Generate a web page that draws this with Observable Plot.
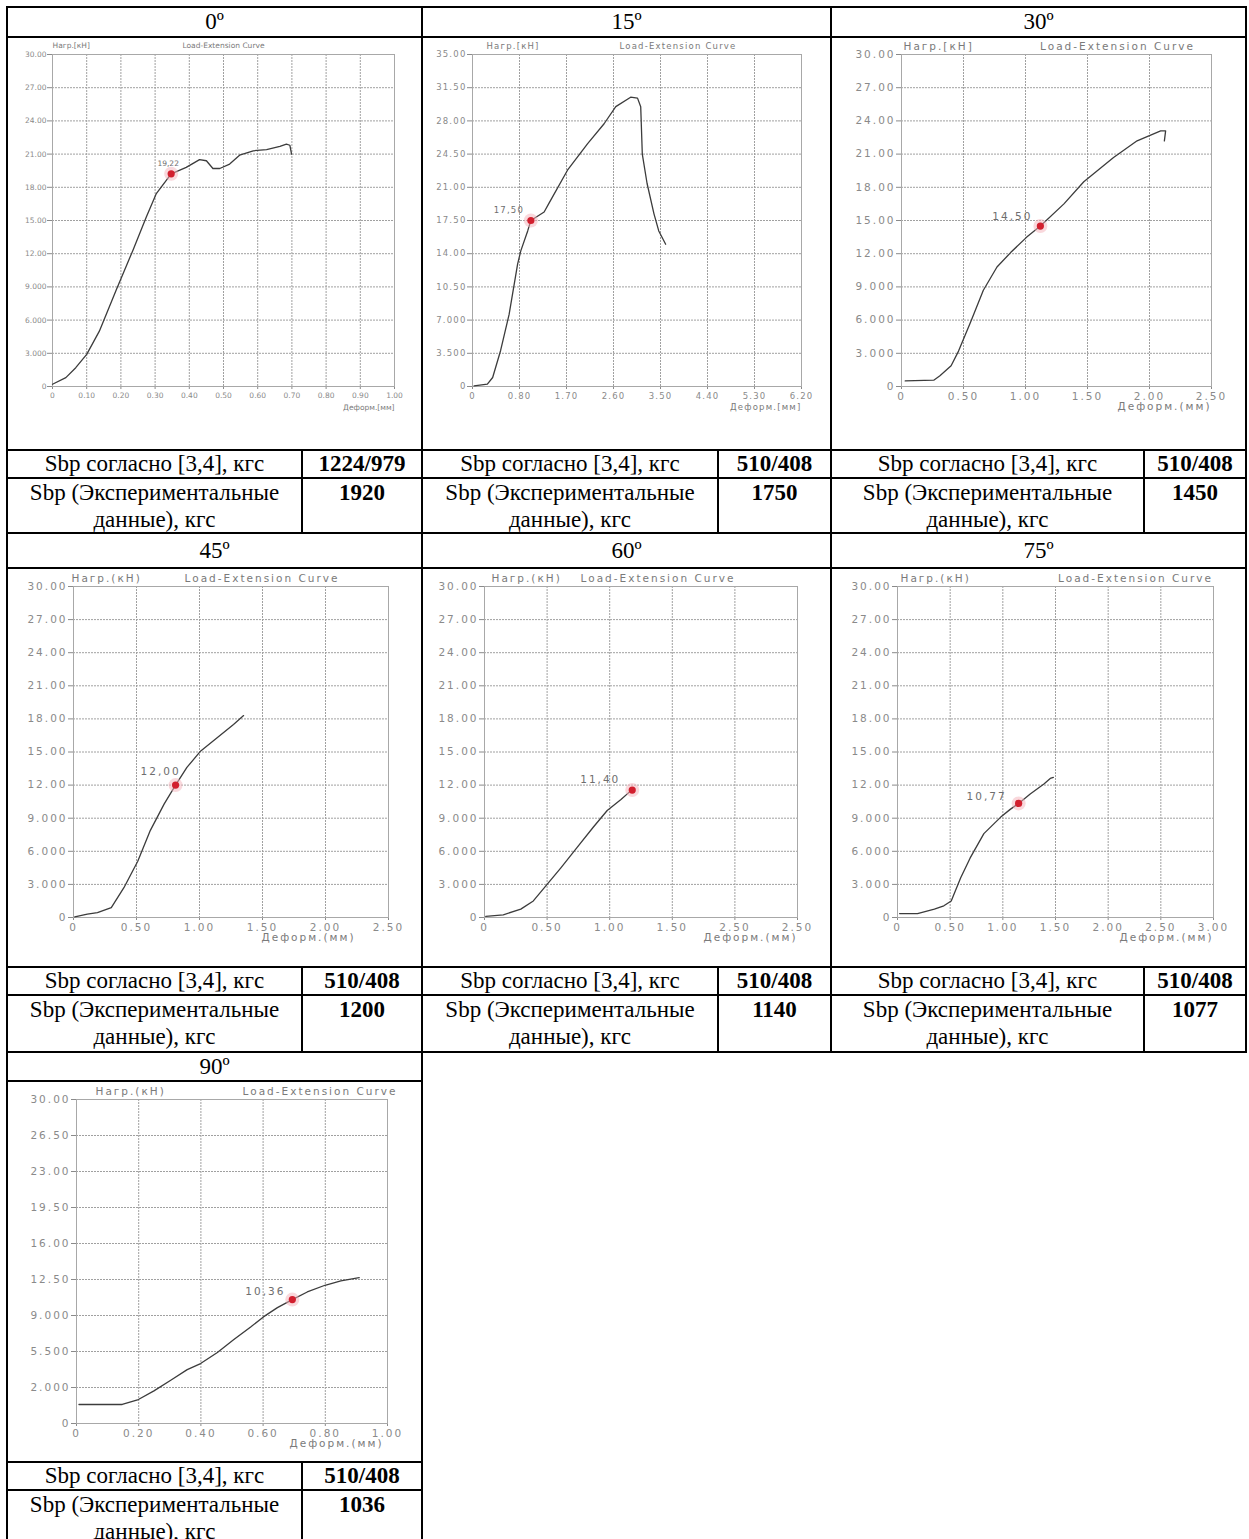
<!DOCTYPE html>
<html>
<head>
<meta charset="utf-8">
<script src="https://cdn.jsdelivr.net/npm/d3@7"></script>
<script src="https://cdn.jsdelivr.net/npm/@observablehq/plot@0.6"></script>
<style>
  html, body { margin: 0; padding: 0; background: #fff; }
  #page { position: relative; width: 1249px; height: 1539px; overflow: hidden; background: #fff;
          font-family: "Liberation Serif", "Times New Roman", serif; color: #000; }
  .ln { position: absolute; background: #000; }
  .tx { position: absolute; text-align: center; font-size: 23px; white-space: nowrap; }
  .tx.b { font-weight: bold; }
  .chart { position: absolute; }
  .chart svg text { font-family: "DejaVu Sans", sans-serif; }
  .fs-s svg text { font-size: 7.5px; letter-spacing: 0px; }
  .fs-m svg text { font-size: 8.5px; letter-spacing: 1.2px; }
  .fs-l svg text { font-size: 10.5px; letter-spacing: 2px; }
</style>
</head>
<body>
<div id="page"></div>
<script>
// ---------------- table texts ----------------
const angles = ["0º", "15º", "30º", "45º", "60º", "75º", "90º"];
const sbpNorm = ["1224/979", "510/408", "510/408", "510/408", "510/408", "510/408", "510/408"];
const sbpExp = ["1920", "1750", "1450", "1200", "1140", "1077", "1036"];
const rowNormLabel = "Sbp согласно [3,4], кгс";
const rowExpLabel = ["Sbp (Экспериментальные", "данные), кгс"];

// ---------------- chart texts ----------------
const curveTitle = "Load-Extension Curve";
const yTitles = ["Нагр.[кН]", "Нагр.[кН]", "Нагр.[кН]", "Нагр.(кН)", "Нагр.(кН)", "Нагр.(кН)", "Нагр.(кН)"];
const xTitles = ["Деформ.[мм]", "Деформ.[мм]", "Деформ.(мм)", "Деформ.(мм)", "Деформ.(мм)", "Деформ.(мм)", "Деформ.(мм)"];
const peakLabels = ["19,22", "17,50", "14,50", "12,00", "11,40", "10,77", "10,36"];
const peakX = [0.347, 1.10, 1.12, 0.81, 1.18, 1.15, 0.694];
const peakY = [19.22, 17.5, 14.5, 12.0, 11.55, 10.34, 11.47];

// ---------------- axis extents and tick labels (ticks evenly spaced over the extent) ----------------
const xMax = [1.0, 6.2, 2.5, 2.5, 2.5, 3.0, 1.0];
const yMax = [30, 35, 30, 30, 30, 30, 30];
const xLabels0 = ["0", "0.10", "0.20", "0.30", "0.40", "0.50", "0.60", "0.70", "0.80", "0.90", "1.00"];
const xLabels15 = ["0", "0.80", "1.70", "2.60", "3.50", "4.40", "5.30", "6.20"];
const xLabels25 = ["0", "0.50", "1.00", "1.50", "2.00", "2.50"];
const xLabels60 = ["0", "0.50", "1.00", "1.50", "2.50", "2.50"];
const xLabels75 = ["0", "0.50", "1.00", "1.50", "2.00", "2.50", "3.00"];
const xLabels90 = ["0", "0.20", "0.40", "0.60", "0.80", "1.00"];
const yLabels30 = ["0", "3.000", "6.000", "9.000", "12.00", "15.00", "18.00", "21.00", "24.00", "27.00", "30.00"];
const yLabels15 = ["0", "3.500", "7.000", "10.50", "14.00", "17.50", "21.00", "24.50", "28.00", "31.50", "35.00"];
const yLabels90 = ["0", "2.000", "5.500", "9.000", "12.50", "16.00", "19.50", "23.00", "26.50", "30.00"];

// ---------------- curves: deformation (mm) and load (kN) ----------------
const defo0 = [0, 0.039, 0.068, 0.10, 0.137, 0.186, 0.235, 0.274, 0.303, 0.347, 0.391, 0.43, 0.45, 0.469, 0.489, 0.518, 0.547, 0.587, 0.626, 0.665, 0.684, 0.694, 0.699];
const load0 = [0.2, 0.8, 1.7, 2.9, 5.0, 8.7, 12.3, 15.3, 17.4, 19.22, 19.8, 20.5, 20.4, 19.7, 19.7, 20.1, 20.9, 21.3, 21.4, 21.7, 21.9, 21.8, 21.0];
const defo15 = [0.03, 0.28, 0.38, 0.53, 0.69, 0.85, 0.91, 1.04, 1.10, 1.35, 1.44, 1.79, 2.17, 2.48, 2.70, 2.98, 3.11, 3.17, 3.20, 3.29, 3.42, 3.51, 3.64];
const load15 = [0.07, 0.25, 0.95, 3.8, 7.6, 12.9, 14.3, 16.4, 17.5, 18.4, 19.3, 22.8, 25.6, 27.7, 29.5, 30.5, 30.4, 29.5, 24.5, 21.4, 18.2, 16.4, 15.0];
const defo30 = [0.03, 0.26, 0.31, 0.40, 0.46, 0.56, 0.66, 0.77, 0.88, 1.01, 1.12, 1.31, 1.47, 1.71, 1.90, 2.09, 2.13, 2.12];
const load30 = [0.5, 0.57, 0.97, 1.87, 3.2, 5.9, 8.7, 10.8, 12.1, 13.5, 14.5, 16.5, 18.5, 20.7, 22.2, 23.1, 23.1, 22.2];
const defo45 = [0.01, 0.11, 0.19, 0.30, 0.40, 0.51, 0.61, 0.72, 0.81, 0.90, 1.01, 1.14, 1.27, 1.35];
const load45 = [0.06, 0.3, 0.45, 0.9, 2.7, 5.1, 7.9, 10.3, 12.0, 13.6, 15.1, 16.3, 17.5, 18.3];
const defo60 = [0.01, 0.15, 0.29, 0.39, 0.50, 0.61, 0.74, 0.87, 0.98, 1.09, 1.17];
const load60 = [0.1, 0.24, 0.76, 1.5, 3.0, 4.5, 6.35, 8.2, 9.7, 10.7, 11.5];
const defo75 = [0.02, 0.19, 0.35, 0.44, 0.51, 0.60, 0.69, 0.82, 0.98, 1.07, 1.15, 1.26, 1.39, 1.45, 1.48];
const load75 = [0.36, 0.36, 0.76, 1.06, 1.5, 3.6, 5.4, 7.6, 9.1, 9.8, 10.34, 11.2, 12.1, 12.6, 12.7];
const defo90 = [0.008, 0.147, 0.199, 0.249, 0.303, 0.356, 0.399, 0.453, 0.506, 0.56, 0.601, 0.646, 0.694, 0.742, 0.799, 0.85, 0.909];
const load90 = [1.76, 1.76, 2.22, 3.02, 4.01, 4.99, 5.55, 6.57, 7.77, 8.94, 9.87, 10.73, 11.47, 12.18, 12.80, 13.20, 13.50];

const charts = [
  {xs: defo0,  ys: load0,  xLabels: xLabels0,  yLabels: yLabels30},
  {xs: defo15, ys: load15, xLabels: xLabels15, yLabels: yLabels15},
  {xs: defo30, ys: load30, xLabels: xLabels25, yLabels: yLabels30},
  {xs: defo45, ys: load45, xLabels: xLabels25, yLabels: yLabels30},
  {xs: defo60, ys: load60, xLabels: xLabels60, yLabels: yLabels30},
  {xs: defo75, ys: load75, xLabels: xLabels75, yLabels: yLabels30},
  {xs: defo90, ys: load90, xLabels: xLabels90, yLabels: yLabels90}
];

// ---------------- layout (positions / styles) ----------------
const cols = [{x0: 7, x1: 422, div: 302}, {x0: 422, x1: 831, div: 718}, {x0: 831, x1: 1246, div: 1144}];
const groups = [
  {top: 7,    head: 37,   chart: 450,  rowA: 478,  rowB: 533,  n: 3},
  {top: 533,  head: 568,  chart: 967,  rowA: 995,  rowB: 1052, n: 3},
  {top: 1052, head: 1081, chart: 1462, rowA: 1490, rowB: 1547, n: 1}
];
const frames = [
  {ml: 44, mr: 27, mt: 16, ph: 332, fs: "fs-s", tdx: 0,  ydx: 0,  xdx: 0,   pdx: -3,  pdy: -10},
  {ml: 49, mr: 29, mt: 16, ph: 332, fs: "fs-m", tdx: 41, ydx: 14, xdx: 0,   pdx: -22, pdy: -10},
  {ml: 69, mr: 34, mt: 16, ph: 332, fs: "fs-l", tdx: 61, ydx: 2,  xdx: 0,   pdx: -28, pdy: -9},
  {ml: 65, mr: 33, mt: 17, ph: 331, fs: "fs-l", tdx: 31, ydx: -2, xdx: -33, pdx: -15, pdy: -13},
  {ml: 61, mr: 33, mt: 17, ph: 331, fs: "fs-l", tdx: 17, ydx: 7,  xdx: 0,   pdx: -32, pdy: -10},
  {ml: 65, mr: 32, mt: 17, ph: 331, fs: "fs-l", tdx: 80, ydx: 3,  xdx: 0,   pdx: -32, pdy: -7},
  {ml: 68, mr: 34, mt: 17, ph: 324, fs: "fs-l", tdx: 88, ydx: 19, xdx: -4,  pdx: -27, pdy: -8}
];

const page = document.getElementById("page");
function hline(y, x0, x1) {
  const d = document.createElement("div"); d.className = "ln";
  Object.assign(d.style, {left: (x0 - 1) + "px", top: (y - 1) + "px", width: (x1 - x0 + 2) + "px", height: "2px"});
  page.appendChild(d);
}
function vline(x, y0, y1) {
  const d = document.createElement("div"); d.className = "ln";
  Object.assign(d.style, {left: (x - 1) + "px", top: (y0 - 1) + "px", width: "2px", height: (y1 - y0 + 2) + "px"});
  page.appendChild(d);
}
function text(str, x0, x1, top, h, bold) {
  const d = document.createElement("div"); d.className = "tx" + (bold ? " b" : "");
  Object.assign(d.style, {left: x0 + "px", top: top + "px", width: (x1 - x0) + "px", height: h + "px", lineHeight: h + "px"});
  d.textContent = str;
  page.appendChild(d);
}
function evenTicks(max, labels) {
  const n = labels.length - 1;
  return labels.map((_, k) => max * k / n);
}
function labeller(ticks, labels) {
  return d => {
    let best = 0;
    ticks.forEach((t, k) => { if (Math.abs(t - d) < Math.abs(ticks[best] - d)) best = k; });
    return labels[best];
  };
}

function drawChart(i, left, top, width) {
  const c = charts[i], F = frames[i];
  const xTicks = evenTicks(xMax[i], c.xLabels);
  const yTicks = evenTicks(yMax[i], c.yLabels);
  const pts = c.xs.map((x, k) => ({x, y: c.ys[k]}));
  const peak = [{x: peakX[i], y: peakY[i], label: peakLabels[i]}];
  const svg = Plot.plot({
    width, height: F.mt + F.ph + 40,
    marginLeft: F.ml, marginRight: F.mr, marginTop: F.mt, marginBottom: 40,
    style: {background: "transparent", color: "#8a8a8a", overflow: "visible"},
    x: {type: "linear", domain: [0, xMax[i]], ticks: xTicks, tickFormat: labeller(xTicks, c.xLabels), tickSize: 3, tickPadding: 3, label: null},
    y: {type: "linear", domain: [0, yMax[i]], ticks: yTicks, tickFormat: labeller(yTicks, c.yLabels), tickSize: 5, tickPadding: 1, label: null},
    marks: [
      Plot.ruleX(xTicks, {stroke: "#a0a0a0", strokeDasharray: "2,1"}),
      Plot.ruleY(yTicks, {stroke: "#a0a0a0", strokeDasharray: "2,1"}),
      Plot.frame({stroke: "#a8a8a8"}),
      Plot.line(pts, {x: "x", y: "y", stroke: "#3c3c3c", strokeWidth: 1.3}),
      Plot.dot(peak, {x: "x", y: "y", r: 7, fill: "#f4b2ba", fillOpacity: 0.5}),
      Plot.dot(peak, {x: "x", y: "y", r: 3.6, fill: "#d21f2e"}),
      Plot.text(peak, {x: "x", y: "y", text: "label", dx: F.pdx, dy: F.pdy, fill: "#6e6e6e"}),
      Plot.text([yTitles[i]], {text: d => d, frameAnchor: "top-left", dx: F.ydx, dy: -12, fill: "#7a7a7a"}),
      Plot.text([curveTitle], {text: d => d, frameAnchor: "top", dx: F.tdx, dy: -12, fill: "#7a7a7a"}),
      Plot.text([xTitles[i]], {text: d => d, frameAnchor: "bottom-right", textAnchor: "end", dx: F.xdx, dy: 23, fill: "#7a7a7a"})
    ]
  });
  const wrap = document.createElement("div");
  wrap.className = "chart " + F.fs;
  Object.assign(wrap.style, {left: left + "px", top: top + "px", width: width + "px"});
  wrap.appendChild(svg);
  page.appendChild(wrap);
}

// ---------------- build table ----------------
groups.forEach((g, gi) => {
  const xEnd = cols[g.n - 1].x1;
  hline(g.top, 7, 1246);
  hline(g.head, 7, xEnd);
  hline(g.chart, 7, xEnd);
  hline(g.rowA, 7, xEnd);
  if (gi < 2) hline(g.rowB, 7, 1246);
  for (let c = 0; c < g.n; c++) {
    const col = cols[c];
    const idx = gi * 3 + c;
    vline(col.div, g.chart, Math.min(g.rowB, 1539));
    text(angles[idx], col.x0, col.x1, g.top, g.head - g.top);
    drawChart(idx, col.x0 + 1, g.head + 1, col.x1 - col.x0 - 2);
    text(rowNormLabel, col.x0, col.div, g.chart, g.rowA - g.chart);
    text(sbpNorm[idx], col.div, col.x1, g.chart, g.rowA - g.chart, true);
    text(rowExpLabel[0], col.x0, col.div, g.rowA + 1, 27);
    text(rowExpLabel[1], col.x0, col.div, g.rowA + 28, 27);
    text(sbpExp[idx], col.div, col.x1, g.rowA + 1, 27, true);
  }
});
vline(7, 7, 1547);
vline(422, 7, 1547);
vline(831, 7, 1052);
vline(1246, 7, 1052);
</script>
</body>
</html>
